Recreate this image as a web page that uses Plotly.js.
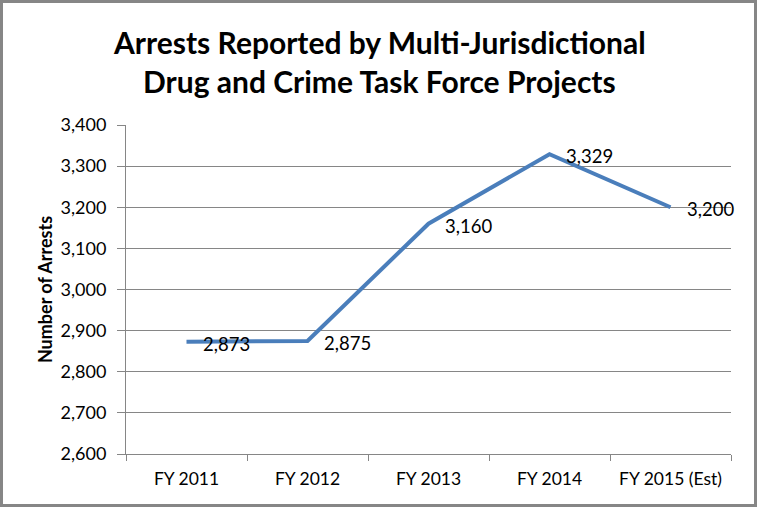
<!DOCTYPE html>
<html>
<head>
<meta charset="utf-8">
<script src="https://cdn.plot.ly/plotly-3.0.1.min.js"></script>
<style>
  html, body { margin: 0; padding: 0; background: #fff; }
  #chart { width: 757px; height: 507px; }
</style>
</head>
<body>
<div id="chart"></div>
<script>
// fiscal years and arrest counts
var years = ['FY 2011', 'FY 2012', 'FY 2013', 'FY 2014', 'FY 2015 (Est)']
var arrests = [2873, 2875, 3160, 3329, 3200]
var titleLines = ['Arrests Reported by Multi-Jurisdictional', 'Drug and Crime Task Force Projects']

var FONT = 'Lato, "Open Sans", sans-serif'
var GRAY = '#868686'

var line = {
	x: years,
	y: arrests,
	type: 'scatter',
	mode: 'lines',
	line: {color: '#4a7ebb', width: 4},
	hoverinfo: 'skip'
}

// data labels sit just right of each point
var labels = years.map(function(yr, i){
	return {
		x: yr, y: arrests[i],
		text: arrests[i].toLocaleString('en-US'),
		showarrow: false,
		xanchor: 'left', yanchor: 'middle',
		xshift: 14, yshift: -2,
		font: {family: FONT, size: 18.5, color: '#000'}
	}
})

// title drawn as two lines so the spacing stays close to the original
var titleY = [1.2523, 1.1337]
titleLines.forEach(function(t, i){
	labels.push({
		xref: 'paper', yref: 'paper',
		x: 0.4182, y: titleY[i],
		text: '<b>' + t + '</b>',
		showarrow: false,
		xanchor: 'center', yanchor: 'middle',
		font: {family: FONT, size: 30, color: '#000'}
	})
})

var layout = {
	width: 757,
	height: 507,
	margin: {l: 126, r: 26, t: 125, b: 53},
	paper_bgcolor: '#fff',
	plot_bgcolor: '#fff',
	showlegend: false,
	xaxis: {
		type: 'category',
		range: [-0.5, 4.5],
		showgrid: false,
		showline: true, linecolor: GRAY, linewidth: 1,
		ticks: 'outside', tickson: 'boundaries', ticklen: 6, tickcolor: GRAY,
		ticklabelstandoff: 9,
		tickfont: {family: FONT, size: 17.5, color: '#000'},
		fixedrange: true
	},
	yaxis: {
		range: [2600, 3400],
		dtick: 100,
		tickformat: ',d',
		showgrid: true, gridcolor: GRAY, gridwidth: 1,
		showline: true, linecolor: GRAY, linewidth: 1,
		ticks: 'outside', ticklen: 8, tickcolor: GRAY,
		ticklabelstandoff: 7,
		tickfont: {family: FONT, size: 18, color: '#000'},
		zeroline: false,
		title: {text: '<b>Number of Arrests</b>', font: {family: FONT, size: 18, color: '#000'}, standoff: 3},
		fixedrange: true
	},
	annotations: labels,
	shapes: [{
		type: 'rect', xref: 'paper', yref: 'paper',
		x0: -0.2058, x1: 1.0405, y0: -0.1565, y1: 1.3755,
		line: {color: GRAY, width: 3}
	}]
}

Plotly.newPlot('chart', [line], layout, {displayModeBar: false, staticPlot: true})
</script>
</body>
</html>
